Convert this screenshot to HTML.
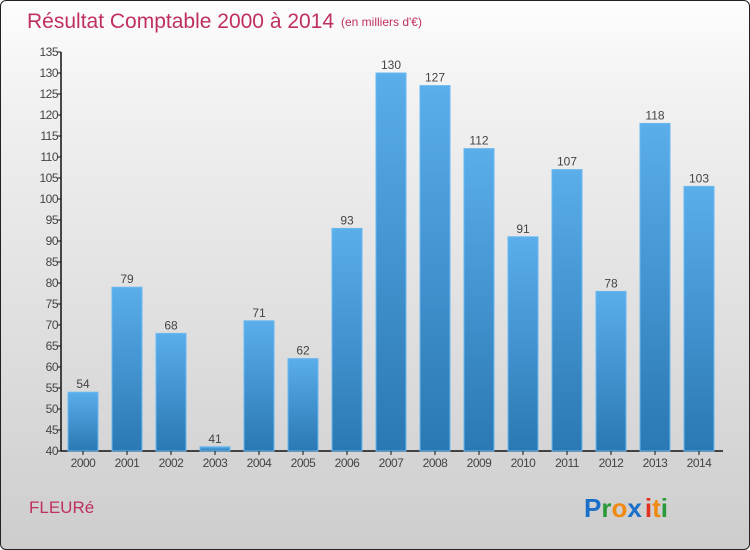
<!DOCTYPE html>
<html><head><meta charset="utf-8"><style>
html,body{margin:0;padding:0;}
body{width:750px;height:550px;overflow:hidden;font-family:"Liberation Sans",sans-serif;}
#card{position:absolute;left:0;top:0;width:748px;height:548px;border:1px solid #222;border-radius:6px;background:linear-gradient(#fdfdfd,#f0f0f0 20%,#d6d6d6 80%,#cdcdcd);overflow:hidden;}
</style></head><body>
<div id="card">
<svg width="750" height="550">
<defs><linearGradient id="bg" x1="0" y1="0" x2="0" y2="1"><stop offset="0" stop-color="#5aaeea"/><stop offset="1" stop-color="#2a78b4"/></linearGradient></defs>
<text x="26" y="27" font-size="21" fill="#c0305f">Résultat Comptable 2000 à 2014</text>
<text x="340" y="25" font-size="12" fill="#c0305f">(en milliers d'€)</text>
<g id="yaxis"></g><g id="bars"></g>
<text x="28" y="512" font-size="17" fill="#c0305f">FLEURé</text>
<text x="583" y="516" font-size="26" font-weight="bold"><tspan fill="#1a6fc9">P</tspan><tspan fill="#2a9a3a">r</tspan><tspan fill="#f08a10">o</tspan><tspan fill="#1a6fc9">x</tspan><tspan fill="#e03020" dx="3">i</tspan><tspan fill="#f08a10">t</tspan><tspan fill="#2a9a3a">i</tspan></text>
</svg></div>
<script>
const categories=["2000","2001","2002","2003","2004","2005","2006","2007","2008","2009","2010","2011","2012","2013","2014"];
const values=[54,79,68,41,71,62,93,130,127,112,91,107,78,118,103];
const yTicks=[40,45,50,55,60,65,70,75,80,85,90,95,100,105,110,115,120,125,130,135];
const NS="http://www.w3.org/2000/svg";
const y0=450,y1=51,vmin=40,vmax=135;
function ys(v){return y0-(v-vmin)/(vmax-vmin)*(y0-y1);}
function xs(i){return 82+i*44;}
function mk(t,a,p){const e=document.createElementNS(NS,t);for(const k in a)e.setAttribute(k,a[k]);p.appendChild(e);return e;}
const ya=document.getElementById('yaxis');
const ax=mk('line',{x1:60,y1:y1,x2:60,y2:y0,stroke:'#111','stroke-width':1.5},ya);


const xa=mk('line',{x1:60,y1:y0,x2:722,y2:y0,stroke:'#111','stroke-width':1.5},ya);


yTicks.forEach(v=>{
 mk('line',{x1:56,x2:60,y1:ys(v),y2:ys(v),stroke:'#111'},ya);
 const t=mk('text',{x:57,y:ys(v)+4,'font-size':12,fill:'#444','text-anchor':'end','letter-spacing':'-0.5'},ya);
 t.textContent=v;
 
 
});
const bg=document.getElementById('bars');
categories.forEach((c,i)=>{
 const v=values[i],x=xs(i);
 const r=mk('rect',{x:x-15,y:ys(v),width:30,height:y0-ys(v),fill:'url(#bg)',stroke:'#6ab8f0','stroke-width':1},bg);
 
 
 const l=mk('text',{x:x,y:ys(v)-4,'font-size':12,fill:'#444','text-anchor':'middle'},bg);
 l.textContent=v;
 
 
 mk('line',{x1:x,x2:x,y1:y0,y2:y0+4,stroke:'#111'},bg);
 const xl=mk('text',{x:x,y:466,'font-size':12,fill:'#444','text-anchor':'middle','letter-spacing':'-0.5'},bg);
 xl.textContent=c;
 
 
});
</script>
</body></html>
